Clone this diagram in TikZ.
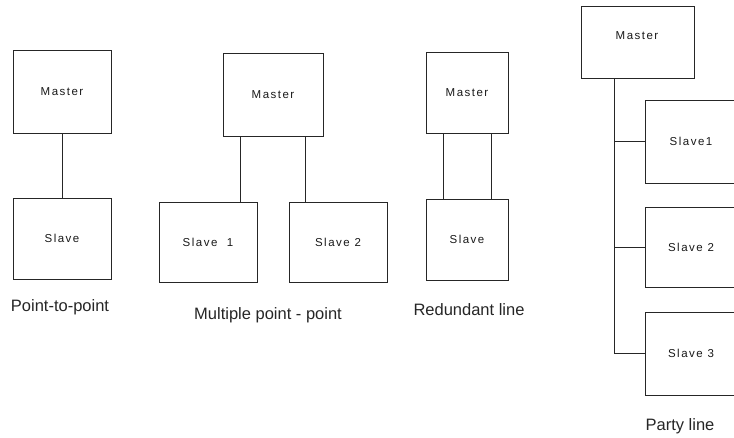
\documentclass[tikz,border=0pt]{standalone}
\usepackage{fontspec}
\setmainfont{Liberation Sans}
\newfontfamily\boxfont[LetterSpace=13]{Liberation Sans}
\usetikzlibrary{calc}
\begin{document}
\begin{tikzpicture}[x=1pt,y=-1pt,
  unit/.style={draw=black!85,line width=0.9pt,rectangle,inner sep=0pt,
    font=\boxfont\fontsize{11.5}{13}\selectfont,text=black!90},
  caption/.style={font=\fontsize{16.5}{18}\selectfont,text=black!85,inner sep=0pt},
  wire/.style={draw=black!85,line width=0.9pt}]
\useasboundingbox (0,0) rectangle (734,437);
\clip (0,0) rectangle (734,437);

% point-to-point
\node[unit,minimum width=98pt,minimum height=83pt] (pm) at (62,91.5) {Master};
\node[unit,minimum width=98pt,minimum height=81pt] (ps) at (62,238.5) {Slave};
\draw[wire] (pm.south) -- (ps.north);
\node[caption] (pcap) at (60,307) {Point-to-point};

% multiple point - point
\node[unit,minimum width=100pt,minimum height=83pt] (mm) at (273,94.5) {Master};
\node[unit,minimum width=98pt,minimum height=80pt] (ms1) at (208,242) {Slave\ \ 1};
\node[unit,minimum width=98pt,minimum height=80pt] (ms2) at (338,242) {Slave 2};
\coordinate (mx1) at (240,0);
\coordinate (mx2) at (305,0);
\draw[wire] (mm.south -| mx1) -- (ms1.north -| mx1);
\draw[wire] (mm.south -| mx2) -- (ms2.north -| mx2);
\node[caption] (mcap) at (268,315) {Multiple point - point};

% redundant line
\node[unit,minimum width=82pt,minimum height=81pt] (rm) at (467,92.5) {Master};
\node[unit,minimum width=82pt,minimum height=81pt] (rs) at (467,239.5) {Slave};
\coordinate (rx1) at (443,0);
\coordinate (rx2) at (491,0);
\draw[wire] (rm.south -| rx1) -- (rs.north -| rx1);
\draw[wire] (rm.south -| rx2) -- (rs.north -| rx2);
\node[caption] (rcap) at (469,310) {Redundant line};

% party line
\node[unit,minimum width=113pt,minimum height=72pt] (qm) at (637.5,42) {};
\node[font=\boxfont\fontsize{11.5}{13}\selectfont,text=black!90] (qmt) at (637,36) {Master};
\node[unit,minimum width=92pt,minimum height=83pt] (qs1) at (691,141.5) {Slave1};
\node[unit,minimum width=92pt,minimum height=80pt] (qs2) at (691,247) {Slave 2};
\node[unit,minimum width=92pt,minimum height=83pt] (qs3) at (691,353.5) {Slave 3};
\coordinate (bus) at (614,0);
\draw[wire] (qm.south -| bus) |- (qs3.west);
\draw[wire] (qs1.west) -- (qs1.west -| bus);
\draw[wire] (qs2.west) -- (qs2.west -| bus);
\node[caption] (qcap) at (680,426) {Party line};
\end{tikzpicture}
\end{document}
